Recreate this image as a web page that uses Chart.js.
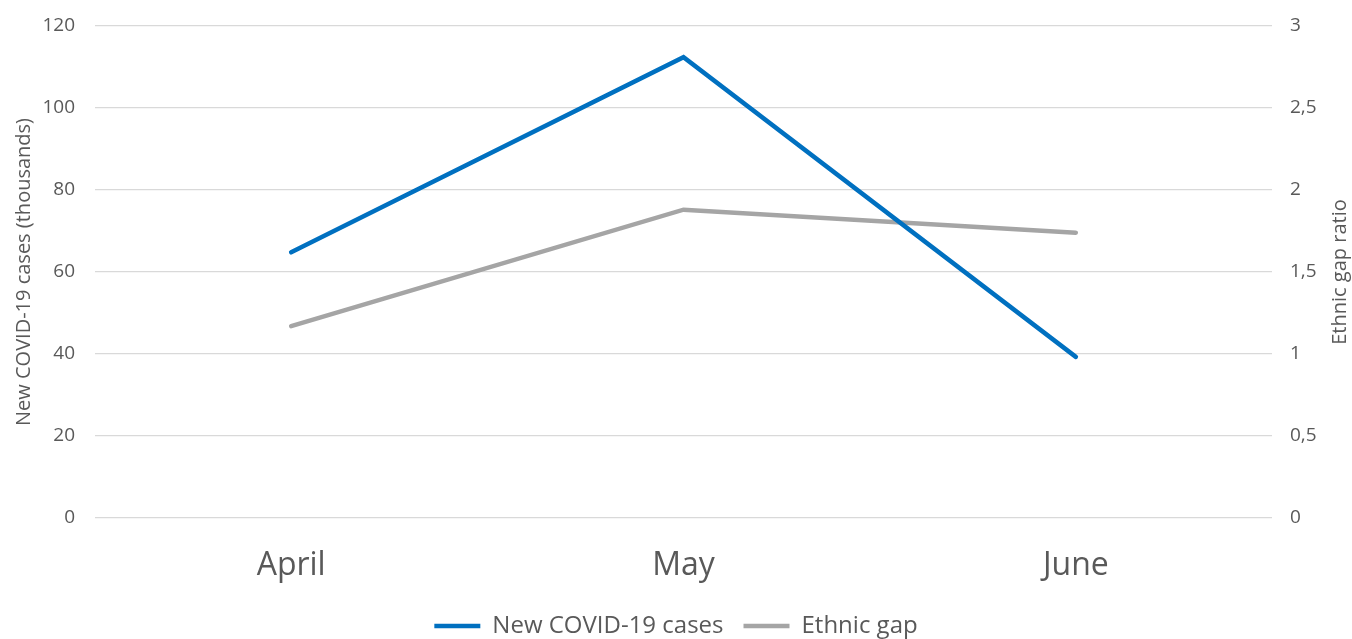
<!DOCTYPE html>
<html>
<head>
<meta charset="utf-8">
<script src="https://cdn.jsdelivr.net/npm/chart.js@4/dist/chart.umd.min.js"></script>
<style>
  html, body { margin: 0; padding: 0; background: #fff; }
</style>
</head>
<body>
<canvas id="grafico" width="1352" height="639"></canvas>
<script>
const months = ['April', 'May', 'June'];
const newCases = [64.8, 112.4, 39.3];
const ethnicGap = [1.17, 1.88, 1.74];
const casesTicks = [0, 20, 40, 60, 80, 100, 120];
const gapTicks = [0, 0.5, 1, 1.5, 2, 2.5, 3];
const rightTitle = 'Ethnic gap ratio';

const textColor = '#595959';
const font = '"Open Sans", "Noto Sans", sans-serif';

// right axis title reads bottom-to-top, like the left one
const rightTitlePlugin = {
    id: 'rightTitle',
    afterDraw(chart) {
        const c = chart.ctx;
        const area = chart.chartArea;
        c.save();
        c.translate(1340, (area.top + area.bottom) / 2);
        c.rotate(-Math.PI / 2);
        c.fillStyle = textColor;
        c.font = '20px ' + font;
        c.textAlign = 'center';
        c.textBaseline = 'middle';
        c.fillText(rightTitle, 0, 0);
        c.restore();
    }
};

const ctx = document.getElementById('grafico').getContext('2d');
const grafico = new Chart(ctx, {
    type: 'line',
    data: {
        labels: months,
        datasets: [{
            label: 'New COVID-19 cases',
            data: newCases,
            borderColor: '#0070C0',
            backgroundColor: '#0070C0',
            borderWidth: 4.5,
            borderCapStyle: 'round',
            borderJoinStyle: 'miter',
            pointRadius: 0,
            yAxisID: 'y'
        }, {
            label: 'Ethnic gap',
            data: ethnicGap,
            borderColor: '#A5A5A5',
            backgroundColor: '#A5A5A5',
            borderWidth: 4.5,
            borderCapStyle: 'round',
            pointRadius: 0,
            yAxisID: 'y1'
        }]
    },
    plugins: [rightTitlePlugin],
    options: {
        responsive: false,
        animation: false,
        layout: { padding: { top: 26, left: 0, right: 0, bottom: -9 } },
        plugins: {
            tooltip: { enabled: false },
            legend: {
                position: 'bottom',
                labels: {
                    usePointStyle: true,
                    pointStyle: 'line',
                    pointStyleWidth: 46,
                    boxHeight: 24,
                    padding: 20,
                    color: textColor,
                    font: { family: font, size: 24 }
                }
            }
        },
        scales: {
            x: {
                offset: true,
                grid: { display: false },
                border: { display: false },
                ticks: { color: textColor, font: { family: font, size: 32 }, padding: 21 },
                afterFit: (s) => { s.height = 76; }
            },
            y: {
                position: 'left',
                min: 0,
                max: 120,
                afterBuildTicks: (s) => { s.ticks = casesTicks.map(v => ({ value: v })); },
                grid: { color: '#D9D9D9', lineWidth: 1.3, drawTicks: false },
                border: { display: false },
                ticks: { color: textColor, font: { family: font, size: 19 }, padding: 20 },
                title: {
                    display: true,
                    text: 'New COVID-19 cases (thousands)',
                    color: textColor,
                    font: { family: font, size: 20 },
                    padding: { top: 12, bottom: 0 }
                },
                afterFit: (s) => { s.width = 95; s.paddingTop = 0; s.paddingBottom = 0; }
            },
            y1: {
                position: 'right',
                min: 0,
                max: 3,
                afterBuildTicks: (s) => { s.ticks = gapTicks.map(v => ({ value: v })); },
                grid: { drawOnChartArea: false, drawTicks: false },
                border: { display: false },
                ticks: {
                    color: textColor,
                    font: { family: font, size: 19 },
                    padding: 18,
                    callback: (v) => String(v).replace('.', ',')
                },
                afterFit: (s) => { s.width = 80; s.paddingTop = 0; s.paddingBottom = 0; }
            }
        }
    }
});
</script>
</body>
</html>
